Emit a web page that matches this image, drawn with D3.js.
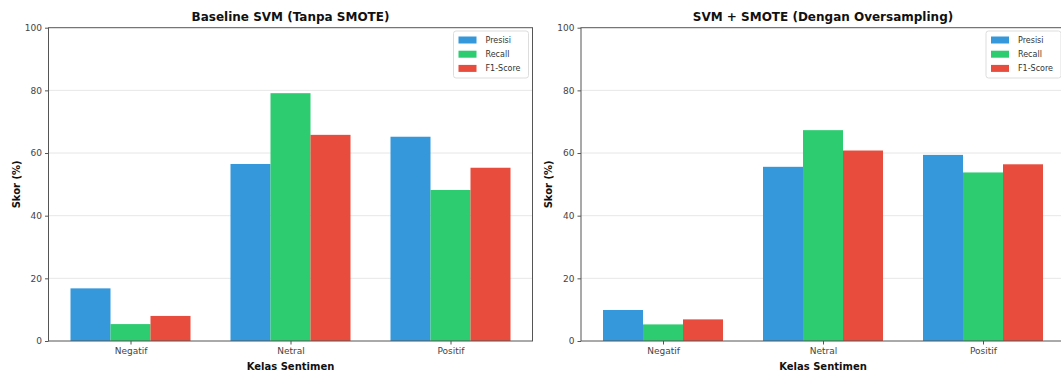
<!DOCTYPE html>
<html>
<head>
<meta charset="utf-8">
<script src="https://cdn.jsdelivr.net/npm/d3@7"></script>
<style>
  html, body { margin: 0; padding: 0; background: #fff; }
  svg { display: block; font-family: "DejaVu Sans", sans-serif; }
</style>
</head>
<body>
<svg id="chart" width="1061" height="373"></svg>
<script>
// ---- data ----
const categories = ["Negatif", "Netral", "Positif"];
const seriesNames = ["Presisi", "Recall", "F1-Score"];
const seriesColors = ["#3498db", "#2ecc71", "#e74c3c"];
const yTicks = [0, 20, 40, 60, 80, 100];

const baselinePresisi = [16.8, 56.5, 65.2];
const baselineRecall  = [5.4, 79.1, 48.2];
const baselineF1      = [8.0, 65.8, 55.3];

const smotePresisi = [9.9, 55.6, 59.4];
const smoteRecall  = [5.3, 67.3, 53.8];
const smoteF1      = [6.9, 60.8, 56.4];

const panelTitles = ["Baseline SVM (Tanpa SMOTE)", "SVM + SMOTE (Dengan Oversampling)"];
const xLabel = "Kelas Sentimen";
const yLabel = "Skor (%)";

(function () {
const panels = [
  { title: panelTitles[0], series: [baselinePresisi, baselineRecall, baselineF1], left: 48.5, right: 532.5 },
  { title: panelTitles[1], series: [smotePresisi, smoteRecall, smoteF1], left: 581, right: 1065 }
];

const svg = d3.select("#chart");
const plotTop = 27.7, plotBottom = 341;
const barW = 0.25;

panels.forEach(p => {
  const g = svg.append("g");
  const x = d3.scaleLinear().domain([-0.5125, 2.5125]).range([p.left, p.right]);
  const y = d3.scaleLinear().domain([0, 100]).range([plotBottom, plotTop]);

  // grid
  g.append("g").selectAll("line").data(yTicks.filter(t => t > 0 && t < 100)).join("line")
    .attr("x1", p.left).attr("x2", p.right)
    .attr("y1", d => y(d)).attr("y2", d => y(d))
    .attr("stroke", "#b0b0b0").attr("stroke-opacity", 0.3).attr("stroke-width", 1);

  // bars
  p.series.forEach((vals, j) => {
    g.append("g").selectAll("rect").data(vals).join("rect")
      .attr("x", (d, i) => x(i + (j - 1) * barW - barW / 2))
      .attr("width", x(barW) - x(0))
      .attr("y", d => y(d))
      .attr("height", d => y(0) - y(d))
      .attr("fill", seriesColors[j]);
  });

  // axes
  const xAxis = d3.axisBottom(x).tickValues([0, 1, 2]).tickFormat(i => categories[i]).tickSize(3.5).tickPadding(3);
  const gx = g.append("g").attr("transform", `translate(0,${plotBottom})`).call(xAxis);
  const yAxis = d3.axisLeft(y).tickValues(yTicks).tickSize(3.5).tickPadding(3);
  const gy = g.append("g").attr("transform", `translate(${p.left},0)`).call(yAxis);
  [gx, gy].forEach(a => {
    a.select(".domain").remove();
    a.selectAll("line").attr("stroke", "#555");
    a.selectAll("text").attr("fill", "#444").style("font-size", "9px").style("font-family", "DejaVu Sans");
  });

  // frame
  g.append("rect").attr("x", p.left).attr("y", plotTop)
    .attr("width", p.right - p.left).attr("height", plotBottom - plotTop)
    .attr("fill", "none").attr("stroke", "#555").attr("stroke-width", 1);

  // title
  g.append("text").attr("x", (p.left + p.right) / 2).attr("y", 21)
    .attr("text-anchor", "middle").style("font-size", "12px").style("font-weight", "bold")
    .attr("fill", "#111").text(p.title);

  // axis labels
  g.append("text").attr("x", (p.left + p.right) / 2).attr("y", 370)
    .attr("text-anchor", "middle").style("font-size", "10px").style("font-weight", "bold")
    .attr("fill", "#111").text(xLabel);
  g.append("text")
    .attr("transform", `translate(${p.left - 29},${(plotTop + plotBottom) / 2}) rotate(-90)`)
    .attr("text-anchor", "middle").style("font-size", "10px").style("font-weight", "bold")
    .attr("fill", "#111").text(yLabel);

  // legend
  const lx = p.right - 79, ly = 31;
  const lg = g.append("g").attr("transform", `translate(${lx},${ly})`);
  lg.append("rect").attr("width", 75).attr("height", 47).attr("rx", 2.5)
    .attr("fill", "#fff").attr("fill-opacity", 0.8).attr("stroke", "#ddd").attr("stroke-width", 1);
  seriesNames.forEach((name, j) => {
    const cy = 9 + j * 14.2;
    lg.append("rect").attr("x", 5).attr("y", cy - 3.5).attr("width", 18).attr("height", 7)
      .attr("fill", seriesColors[j]);
    lg.append("text").attr("x", 32).attr("y", cy + 3).style("font-size", "8px")
      .attr("fill", "#333").text(name);
  });
});
})();
</script>
</body>
</html>
